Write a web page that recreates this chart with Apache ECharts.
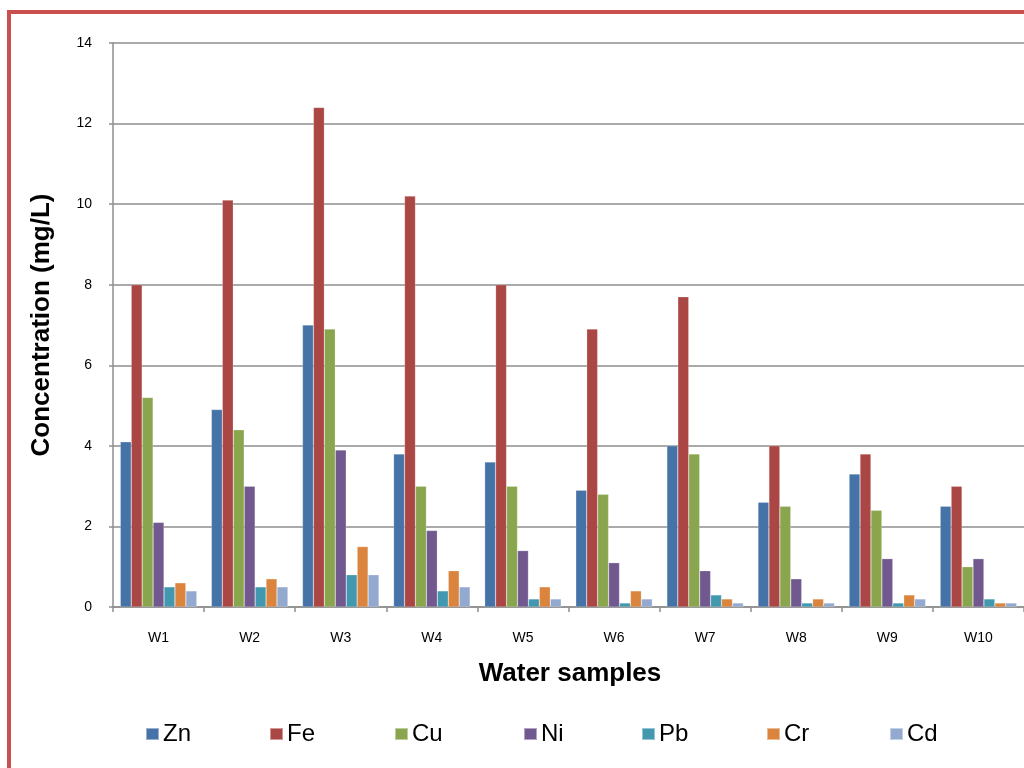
<!DOCTYPE html>
<html>
<head>
<meta charset="utf-8">
<script src="https://cdn.jsdelivr.net/npm/echarts@6/dist/echarts.min.js"></script>
<style>
  html, body { margin: 0; padding: 0; background: #fff; }
  #chart { width: 1024px; height: 768px; }
</style>
</head>
<body>
<div id="chart"></div>
<script>
// Heavy-metal concentrations (mg/L) in ten water samples
const samples = ['W1', 'W2', 'W3', 'W4', 'W5', 'W6', 'W7', 'W8', 'W9', 'W10'];
const Zn = [4.1, 4.9, 7.0, 3.8, 3.6, 2.9, 4.0, 2.6, 3.3, 2.5];
const Fe = [8.0, 10.1, 12.4, 10.2, 8.0, 6.9, 7.7, 4.0, 3.8, 3.0];
const Cu = [5.2, 4.4, 6.9, 3.0, 3.0, 2.8, 3.8, 2.5, 2.4, 1.0];
const Ni = [2.1, 3.0, 3.9, 1.9, 1.4, 1.1, 0.9, 0.7, 1.2, 1.2];
const Pb = [0.5, 0.5, 0.8, 0.4, 0.2, 0.1, 0.3, 0.1, 0.1, 0.2];
const Cr = [0.6, 0.7, 1.5, 0.9, 0.5, 0.4, 0.2, 0.2, 0.3, 0.1];
const Cd = [0.4, 0.5, 0.8, 0.5, 0.2, 0.2, 0.1, 0.1, 0.2, 0.1];

const metals = [
  { name: 'Zn', data: Zn, color: '#4572A7' },
  { name: 'Fe', data: Fe, color: '#AA4643' },
  { name: 'Cu', data: Cu, color: '#89A54E' },
  { name: 'Ni', data: Ni, color: '#71588F' },
  { name: 'Pb', data: Pb, color: '#4198AF' },
  { name: 'Cr', data: Cr, color: '#DB843D' },
  { name: 'Cd', data: Cd, color: '#93A9CF' }
];

const font = '"Liberation Sans", Arial, sans-serif';
const gridColor = '#8e8e8e';

// one legend entry per metal, spread evenly along the bottom
const legendLeft = [145, 269, 394, 523, 641, 766, 889];
const legends = metals.map((m, i) => ({
  data: [m.name],
  left: legendLeft[i],
  top: 722,
  icon: 'rect',
  itemWidth: 13,
  itemHeight: 12,
  padding: 0,
  selectedMode: false,
  textStyle: { fontFamily: font, fontSize: 24, color: '#000', padding: [0, 0, 0, -1] }
}));

const chart = echarts.init(document.getElementById('chart'), null, { renderer: 'canvas' });

chart.setOption({
  animation: false,
  backgroundColor: '#ffffff',
  color: metals.map(m => m.color),
  grid: { left: 113, top: 43, width: 920, height: 564, containLabel: false },
  legend: legends,
  xAxis: {
    type: 'category',
    data: samples,
    axisLine: { lineStyle: { color: gridColor, width: 1.5 } },
    axisTick: { show: true, length: 5, lineStyle: { color: gridColor, width: 1.5 } },
    axisLabel: { fontFamily: font, fontSize: 14, color: '#000', margin: 24 }
  },
  yAxis: {
    type: 'value',
    min: 0,
    max: 14,
    interval: 2,
    axisLine: { show: true, lineStyle: { color: gridColor, width: 1.5 } },
    axisTick: { show: true, length: 4, lineStyle: { color: gridColor, width: 1.5 } },
    axisLabel: { fontFamily: font, fontSize: 14, color: '#000', margin: 21 },
    splitLine: { show: true, lineStyle: { color: gridColor, width: 1.5 } }
  },
  graphic: [
    {
      type: 'rect',
      shape: { x: 9, y: 12, width: 1200, height: 900 },
      style: { fill: 'none', stroke: '#C9504F', lineWidth: 4 },
      silent: true
    },
    {
      type: 'text',
      x: 42,
      y: 325,
      rotation: Math.PI / 2,
      style: {
        text: 'Concentration (mg/L)',
        font: 'bold 26px ' + font,
        fill: '#000',
        align: 'center',
        verticalAlign: 'middle'
      }
    },
    {
      type: 'text',
      x: 570,
      y: 674,
      style: {
        text: 'Water samples',
        font: 'bold 26px ' + font,
        fill: '#000',
        align: 'center',
        verticalAlign: 'middle'
      }
    }
  ],
  series: metals.map(m => ({
    name: m.name,
    type: 'bar',
    data: m.data,
    barGap: '0%',
    barCategoryGap: '16%',
    itemStyle: { color: m.color, borderColor: 'rgba(255,255,255,0.45)', borderWidth: 0.5 }
  }))
});
</script>
</body>
</html>
